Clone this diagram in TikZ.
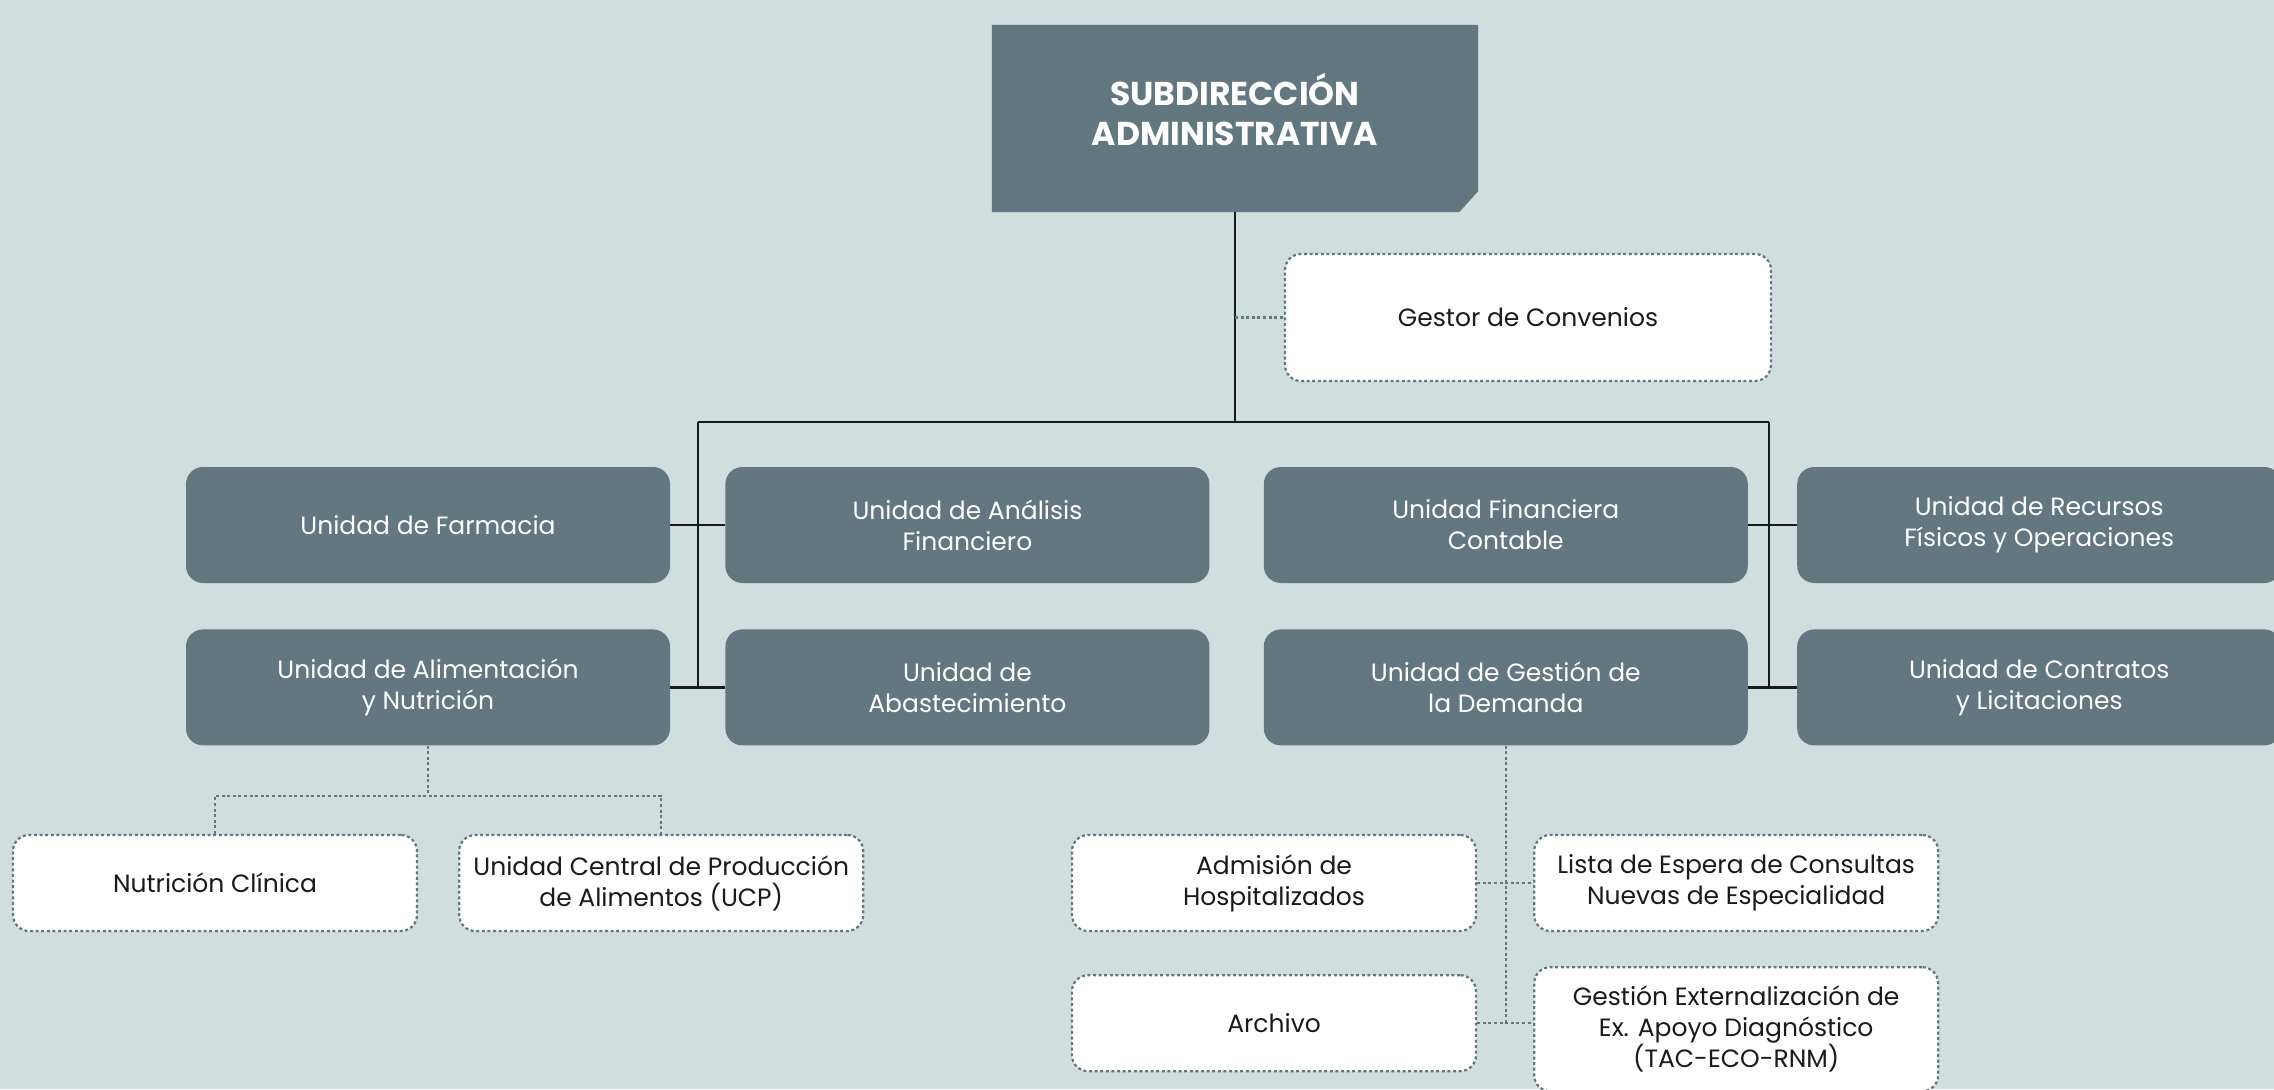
\documentclass[tikz,border=0pt]{standalone}
\usepackage{fontspec}
\setmainfont{Poppins}
\usetikzlibrary{positioning}
\definecolor{sheet}{HTML}{D1DEDE}
\definecolor{slate}{HTML}{637780}
\definecolor{ink}{HTML}{1A1A1A}

\begin{document}
\begin{tikzpicture}[x=1pt,y=-1pt,
  jefe/.style={rectangle,minimum width=486pt,minimum height=187pt,inner sep=0pt},
  jefetxt/.style={text=white,align=center,font=\bfseries\fontsize{33}{40}\selectfont},
  unidad/.style={rectangle,rounded corners=17pt,fill=slate,text=white,minimum width=484pt,minimum height=116pt,align=center,font=\fontsize{25}{31}\selectfont},
  apoyo/.style={rectangle,rounded corners=16pt,fill=white,draw=slate,line width=2.2pt,dash pattern=on 3pt off 2.6pt,text=ink,minimum width=404pt,minimum height=96pt,align=center,font=\fontsize{25}{31}\selectfont},
  tie/.style={draw=ink,line width=2.5pt},
  dots/.style={draw=slate,line width=2.2pt,dash pattern=on 3pt off 2.6pt}]
\useasboundingbox (0,0) rectangle (2274,1089);
\fill[sheet] (0,0) rectangle (2274,1089);

\node[jefe] (subdir) at (1235,118.5) {};
\fill[slate] (subdir.north west) -- (subdir.north east) -- ([yshift=21pt]subdir.south east)
  -- ([xshift=-19pt]subdir.south east) -- (subdir.south west) -- cycle;
\node[jefetxt] (subtxt) at ([yshift=9pt]subdir.center) {SUBDIRECCIÓN\\ADMINISTRATIVA};
\node[apoyo,minimum width=486pt,minimum height=127pt] (conv) at (1528,317.5) {Gestor de Convenios};

\node[unidad] (farm) at (428,525) {Unidad de Farmacia};
\node[unidad,right=55pt of farm] (anal) {Unidad de Análisis\\Financiero};
\node[unidad,right=54pt of anal] (finc) {Unidad Financiera\\Contable};
\node[unidad,right=49pt of finc] (recu) {Unidad de Recursos\\Físicos y Operaciones};
\node[unidad,below=46pt of farm] (alim) {Unidad de Alimentación\\y Nutrición};
\node[unidad,below=46pt of anal] (abas) {Unidad de\\Abastecimiento};
\node[unidad,below=46pt of finc] (dema) {Unidad de Gestión de\\la Demanda};
\node[unidad,below=46pt of recu] (cont) {Unidad de Contratos\\y Licitaciones};

\node[apoyo] (nutr) at (215,883) {Nutrición Clínica};
\node[apoyo,right=40pt of nutr] (ucp) {Unidad Central de Producción\\de Alimentos (UCP)};
\node[apoyo] (admi) at (1274,883) {Admisión de\\Hospitalizados};
\node[apoyo,right=56pt of admi] (list) {Lista de Espera de Consultas\\Nuevas de Especialidad};
\node[apoyo,below=42pt of admi] (arch) {Archivo};
\node[apoyo,minimum height=124pt,below=34pt of list] (exte) {Gestión Externalización de\\Ex. Apoyo Diagnóstico\\(TAC-ECO-RNM)};

\coordinate (knotL) at (698,422);
\coordinate (knotR) at (1769,422);
\coordinate (alimknot) at ([yshift=-50pt]alim.south);

\draw[tie] (subdir.south) -- (subdir.south |- knotL);
\draw[tie] (knotL) -- (knotR);
\draw[tie] (knotL) -- (knotL |- alim.east);
\draw[tie] (knotR) -- (knotR |- cont.west);
\draw[tie] (farm.east) -- (anal.west);
\draw[tie] (alim.east) -- (abas.west);
\draw[tie] (finc.east) -- (recu.west);
\draw[tie] (dema.east) -- (cont.west);

\draw[dots] (subdir.south |- conv.west) -- (conv.west);
\draw[dots] (alim.south) -- (alimknot);
\draw[dots] (nutr.north) |- (alimknot) -| (ucp.north);
\draw[dots] (dema.south) -- (dema.south |- arch.east);
\draw[dots] (admi.east) -- (list.west);
\draw[dots] (arch.east) -- (arch.east -| exte.west);
\end{tikzpicture}
\end{document}
